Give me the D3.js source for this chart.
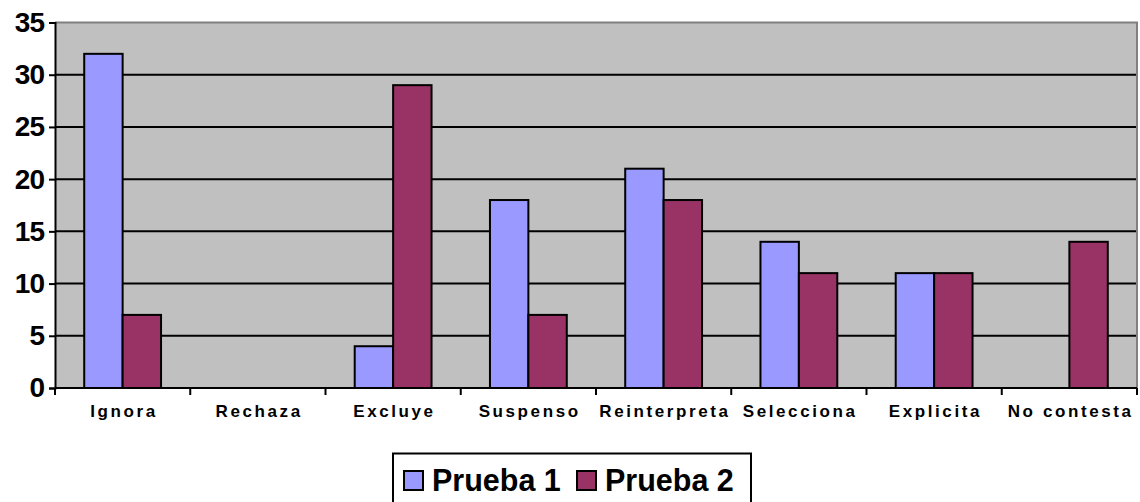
<!DOCTYPE html>
<html>
<head>
<meta charset="utf-8">
<script src="https://cdn.jsdelivr.net/npm/d3@7"></script>
<style>
  body { margin: 0; background: #fff; }
  svg { display: block; font-family: "Liberation Sans", Arial, sans-serif; }
</style>
</head>
<body>
<div id="chart"></div>
<script>
const categories = ["Ignora", "Rechaza", "Excluye", "Suspenso", "Reinterpreta", "Selecciona", "Explicita", "No contesta"];
const prueba1 = [32, 0, 4, 18, 21, 14, 11, 0];
const prueba2 = [7, 0, 29, 7, 18, 11, 11, 14];
const seriesNames = ["Prueba 1", "Prueba 2"];
const seriesColors = ["#9999FF", "#993366"];
const yTicks = [0, 5, 10, 15, 20, 25, 30, 35];

const W = 1140, H = 502;
const m = { left: 55, right: 3, top: 22.5, bottom: 114 };

const svg = d3.select("#chart").append("svg").attr("width", W).attr("height", H);

const x = d3.scaleBand().domain(categories).range([m.left, W - m.right]);
const y = d3.scaleLinear().domain([0, 35]).range([H - m.bottom, m.top]);
const barW = x.bandwidth() * 0.284;

// fundo da área do gráfico
svg.append("rect")
  .attr("x", m.left).attr("y", m.top)
  .attr("width", W - m.right - m.left).attr("height", y(0) - m.top)
  .attr("fill", "#C0C0C0");

// linhas de grade
svg.append("g").selectAll("line")
  .data(yTicks.filter(d => d > 0 && d < 35))
  .join("line")
  .attr("x1", m.left).attr("x2", W - m.right)
  .attr("y1", d => y(d)).attr("y2", d => y(d))
  .attr("stroke", "#000").attr("stroke-width", 2);

// borda cinza (topo e direita)
svg.append("path")
  .attr("d", `M${m.left},${m.top}H${W - m.right}V${y(0)}`)
  .attr("fill", "none").attr("stroke", "#808080").attr("stroke-width", 2);

// barras
const data = categories.map((c, i) => ({ c, vals: [prueba1[i], prueba2[i]] }));
const groups = svg.append("g").selectAll("g").data(data).join("g");
groups.selectAll("rect")
  .data(d => d.vals.map((v, s) => ({ c: d.c, v, s })))
  .join("rect")
  .filter(d => d.v > 0)
  .attr("x", d => x(d.c) + x.bandwidth() / 2 - barW + d.s * barW)
  .attr("y", d => y(d.v))
  .attr("width", barW)
  .attr("height", d => y(0) - y(d.v))
  .attr("fill", d => seriesColors[d.s])
  .attr("stroke", "#000").attr("stroke-width", 2);

// eixo Y
const yAxis = svg.append("g").attr("transform", `translate(${m.left},0)`)
  .call(d3.axisLeft(y).tickValues(yTicks).tickSize(6).tickPadding(5));
yAxis.select(".domain").attr("stroke", "#000").attr("stroke-width", 2);
yAxis.selectAll(".tick line").attr("stroke", "#000").attr("stroke-width", 2);
yAxis.selectAll(".tick text")
  .attr("font-size", 28).attr("font-weight", "bold").attr("fill", "#000")
  .attr("font-family", "'Liberation Sans', Arial, sans-serif")
  .attr("letter-spacing", "-1px");

// eixo X
const xAxis = svg.append("g").attr("transform", `translate(0,${y(0)})`);
xAxis.append("line")
  .attr("x1", m.left).attr("x2", W - m.right)
  .attr("stroke", "#000").attr("stroke-width", 2);
const bounds = categories.map(c => x(c)).concat([x(categories[categories.length - 1]) + x.bandwidth()]);
xAxis.selectAll("line.tk").data(bounds).join("line").attr("class", "tk")
  .attr("x1", d => d).attr("x2", d => d).attr("y1", 0).attr("y2", 7)
  .attr("stroke", "#000").attr("stroke-width", 2);
xAxis.selectAll("text").data(categories).join("text")
  .attr("x", d => x(d) + x.bandwidth() / 2 + 1.3)
  .attr("y", 29)
  .attr("text-anchor", "middle")
  .attr("font-size", 17).attr("font-weight", "bold")
  .attr("letter-spacing", "2.6px")
  .text(d => d);

// legenda
const lg = svg.append("g");
lg.append("rect")
  .attr("x", 393).attr("y", 453.5).attr("width", 358).attr("height", 60)
  .attr("fill", "#fff").attr("stroke", "#000").attr("stroke-width", 2);
const items = [{ x: 404, tx: 432 }, { x: 577, tx: 605 }];
seriesNames.forEach((name, i) => {
  lg.append("rect")
    .attr("x", items[i].x).attr("y", 471).attr("width", 19).attr("height", 19)
    .attr("fill", seriesColors[i]).attr("stroke", "#000").attr("stroke-width", 2);
  lg.append("text")
    .attr("x", items[i].tx).attr("y", 491)
    .attr("font-size", 30.5).attr("font-weight", "bold")
    .text(name);
});
</script>
</body>
</html>
